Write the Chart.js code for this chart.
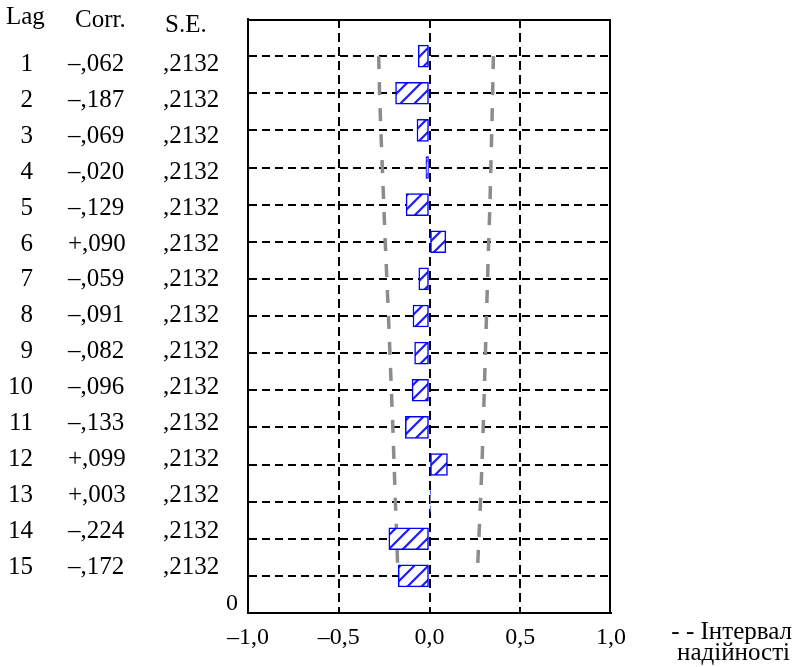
<!DOCTYPE html>
<html>
<head>
<meta charset="utf-8">
<script src="https://cdn.jsdelivr.net/npm/chart.js@4.4.1/dist/chart.umd.min.js"></script>
<style>
  html, body { margin: 0; padding: 0; background: #ffffff; }
  #wrap { width: 795px; height: 667px; position: relative; }
</style>
</head>
<body>
<div id="wrap"><canvas id="acf" width="795" height="667"></canvas></div>
<script>
// Autocorrelation table: lag, coefficient, standard error
const lags = [1, 2, 3, 4, 5, 6, 7, 8, 9, 10, 11, 12, 13, 14, 15];
const corr = [-0.062, -0.187, -0.069, -0.020, -0.129, 0.090, -0.059, -0.091,
              -0.082, -0.096, -0.133, 0.099, 0.003, -0.224, -0.172];
const stdErr = [0.2132, 0.2132, 0.2132, 0.2132, 0.2132, 0.2132, 0.2132, 0.2132,
                0.2132, 0.2132, 0.2132, 0.2132, 0.2132, 0.2132, 0.2132];

// Confidence band limits per lag
const ciLower = [-0.280, -0.275, -0.268, -0.260, -0.252, -0.244, -0.235, -0.226,
                 -0.218, -0.210, -0.202, -0.195, -0.188, -0.180, -0.174];
const ciUpper = [0.352, 0.348, 0.343, 0.338, 0.333, 0.326, 0.320, 0.314,
                 0.308, 0.302, 0.296, 0.289, 0.281, 0.272, 0.263];

// Axis ticks
const xTicks = [-1, -0.5, 0, 0.5, 1];
const headers = ['Lag', 'Corr.', 'S.E.'];
const bandLabel = ['- - Інтервал', 'надійності'];

const SERIF = '"Liberation Serif", "Times New Roman", serif';

function fmtAxis(v) {
  const s = Math.abs(v).toFixed(1).replace('.', ',');
  return (v < 0 ? '\u2013' : '') + s;
}
function fmtCorr(v) {
  const s = Math.abs(v).toFixed(3).slice(1).replace('.', ',');
  return (v < 0 ? '\u2013' : '+') + s;
}
function fmtSE(v) {
  return v.toFixed(4).slice(1).replace('.', ',');
}

function makeHatch() {
  const s = 14;
  const c = document.createElement('canvas');
  c.width = s; c.height = s;
  const g = c.getContext('2d');
  g.fillStyle = '#ffffff';
  g.fillRect(0, 0, s, s);
  g.strokeStyle = '#1a1aff';
  g.lineWidth = 2.2;
  g.beginPath();
  g.moveTo(-2, s + 2); g.lineTo(s + 2, -2);
  g.moveTo(-2, 2); g.lineTo(2, -2);
  g.moveTo(s - 2, s + 2); g.lineTo(s + 2, s - 2);
  g.stroke();
  return g.createPattern(c, 'repeat');
}

// Table columns, frame and band caption
const tablePlugin = {
  id: 'acfTable',
  afterDraw(chart) {
    const ctx = chart.ctx;
    const a = chart.chartArea;
    ctx.save();
    // frame (top and right sides)
    ctx.strokeStyle = '#000';
    ctx.lineWidth = 2;
    ctx.beginPath();
    ctx.moveTo(a.left, a.top + 1);
    ctx.lineTo(a.right - 1, a.top + 1);
    ctx.lineTo(a.right - 1, a.bottom);
    ctx.stroke();

    ctx.fillStyle = '#000';
    ctx.font = '25px ' + SERIF;
    ctx.textBaseline = 'alphabetic';
    ctx.textAlign = 'left';
    ctx.fillText(headers[0], 6, 24);
    ctx.fillText(headers[1], 75, 27);
    ctx.fillText(headers[2], 165, 32);

    const rowTop = 71, rowStep = 35.9;
    lags.forEach((lag, i) => {
      const y = rowTop + rowStep * i;
      ctx.textAlign = 'right';
      ctx.fillText(String(lag), 33, y);
      ctx.textAlign = 'left';
      ctx.fillText(fmtCorr(corr[i]), 68, y);
      ctx.fillText(fmtSE(stdErr[i]), 163, y);
    });

    ctx.font = '24px ' + SERIF;
    ctx.textAlign = 'center';
    ctx.fillText('0', 232, 610);

    ctx.font = '25px ' + SERIF;
    ctx.textAlign = 'right';
    ctx.fillText(bandLabel[0], 792, 639);
    ctx.fillText(bandLabel[1], 790, 660);
    ctx.restore();
  }
};

const ctx = document.getElementById('acf').getContext('2d');
const hatch = makeHatch();

const dashedGrid = (keep) => (c) => (keep(c.tick && c.tick.value) ? '#000' : 'rgba(0,0,0,0)');

new Chart(ctx, {
  type: 'bar',
  data: {
    datasets: [
      {
        type: 'bar',
        indexAxis: 'y',
        data: lags.map((l, i) => ({ x: corr[i], y: l })),
        backgroundColor: hatch,
        borderColor: '#0000ff',
        borderWidth: 1.5,
        borderSkipped: false,
        barThickness: 22,
        order: 1
      },
      {
        type: 'line',
        indexAxis: 'y',
        data: lags.map((l, i) => ({ x: ciLower[i], y: l })),
        borderColor: '#8c8c8c',
        borderWidth: 3.5,
        borderDash: [13, 13],
        pointRadius: 0,
        fill: false,
        tension: 0,
        order: 2
      },
      {
        type: 'line',
        indexAxis: 'y',
        data: lags.map((l, i) => ({ x: ciUpper[i], y: l })),
        borderColor: '#8c8c8c',
        borderWidth: 3.5,
        borderDash: [13, 13],
        pointRadius: 0,
        fill: false,
        tension: 0,
        order: 2
      }
    ]
  },
  options: {
    responsive: false,
    animation: false,
    devicePixelRatio: 1,
    layout: { padding: { left: 248, right: 184, top: 19, bottom: 0 } },
    plugins: { legend: { display: false }, tooltip: { enabled: false } },
    scales: {
      x: {
        type: 'linear',
        offset: false,
        min: -1, max: 1,
        afterBuildTicks: (s) => { s.ticks = xTicks.map(v => ({ value: v })); },
        afterFit: (s) => { s.height = 54; },
        ticks: {
          autoSkip: false, maxRotation: 0, padding: 10,
          color: '#000',
          font: { family: SERIF, size: 24 },
          callback: (v) => fmtAxis(v)
        },
        grid: {
          offset: false,
          drawTicks: false,
          lineWidth: 2,
          color: dashedGrid(v => v > -0.99 && v < 0.99),
          borderDash: [9, 5]
        },
        border: { display: true, color: '#000', width: 2, dash: [9, 5] }
      },
      y: {
        type: 'linear',
        offset: false,
        min: 0, max: 16,
        reverse: true,
        afterBuildTicks: (s) => { s.ticks = [0].concat(lags, [16]).map(v => ({ value: v })); },
        afterFit: (s) => { s.width = 0; },
        ticks: { display: false },
        grid: {
          offset: false,
          drawTicks: false,
          lineWidth: 2,
          color: dashedGrid(v => v >= 1 && v <= 15),
          borderDash: [8, 5]
        },
        border: { display: true, color: '#000', width: 2, dash: [8, 5] }
      }
    }
  },
  plugins: [tablePlugin]
});
</script>
</body>
</html>
